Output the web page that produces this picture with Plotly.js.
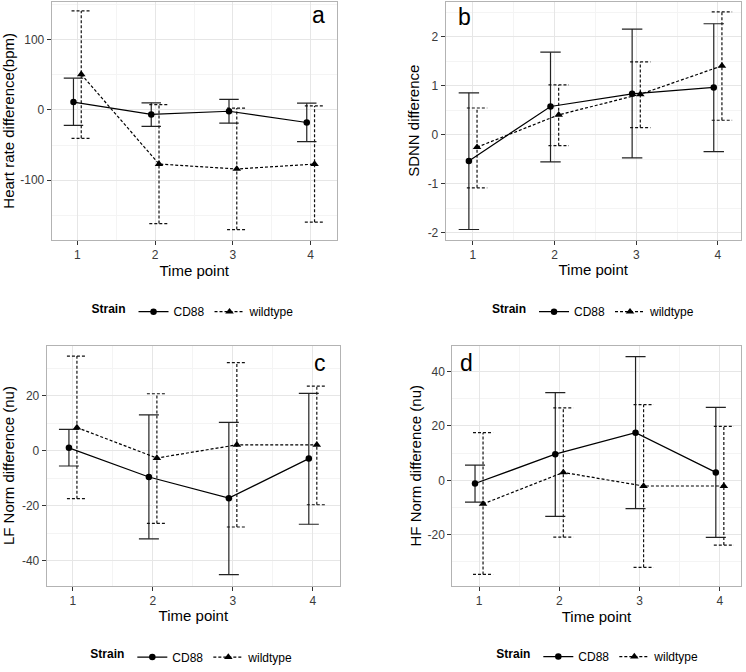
<!DOCTYPE html>
<html>
<head>
<meta charset="utf-8">
<script src="https://cdn.plot.ly/plotly-3.0.1.min.js"></script>
<style>
  html, body { margin: 0; padding: 0; background: #ffffff; }
  #chart { width: 746px; height: 672px; }
</style>
</head>
<body>
<div id="chart"></div>
<script>
// ---------------- DATA ----------------
const timePoints = [1, 2, 3, 4];
const strainNames = ['CD88', 'wildtype'];
const panelLetters = ['a', 'b', 'c', 'd'];
const yTitles = ['Heart rate difference(bpm)', 'SDNN difference', 'LF Norm difference (nu)', 'HF Norm difference (nu)'];
const xTitle = 'Time point';
const xTickText = ['1', '2', '3', '4'];

// Panel a: heart rate difference (bpm)
const hrCD88Mean  = [11, -6.5, -2, -18];
const hrCD88Upper = [45, 10, 15, 9.5];
const hrCD88Lower = [-22, -23.5, -19, -45];
const hrWTMean    = [50.5, -77, -84, -77];
const hrWTUpper   = [140.5, 7.5, 2.5, 5.5];
const hrWTLower   = [-40.5, -161.5, -170, -159.5];
const hrTickVals  = [-100, 0, 100];
const hrTickText  = ['-100', '0', '100'];

// Panel b: SDNN difference
const sdnnCD88Mean  = [-0.53, 0.58, 0.84, 0.97];
const sdnnCD88Upper = [0.86, 1.69, 2.16, 2.27];
const sdnnCD88Lower = [-1.93, -0.55, -0.47, -0.34];
const sdnnWTMean    = [-0.25, 0.41, 0.83, 1.41];
const sdnnWTUpper   = [0.55, 1.02, 1.49, 2.51];
const sdnnWTLower   = [-1.08, -0.22, 0.15, 0.30];
const sdnnTickVals  = [-2, -1, 0, 1, 2];
const sdnnTickText  = ['-2', '-1', '0', '1', '2'];

// Panel c: LF norm difference (nu)
const lfCD88Mean  = [1.1, -9.5, -17.2, -2.8];
const lfCD88Upper = [7.8, 13.1, 10.4, 20.9];
const lfCD88Lower = [-5.5, -32, -45, -26.7];
const lfWTMean    = [8.5, -2.6, 2.2, 2.2];
const lfWTUpper   = [34.5, 20.8, 32.1, 23.6];
const lfWTLower   = [-17.4, -26.4, -27.7, -19.6];
const lfTickVals  = [-40, -20, 0, 20];
const lfTickText  = ['-40', '-20', '0', '20'];

// Panel d: HF norm difference (nu)
const hfCD88Mean  = [-1.2, 9.6, 17.5, 2.9];
const hfCD88Upper = [5.6, 32.2, 45.5, 26.8];
const hfCD88Lower = [-8, -13.3, -10.4, -21];
const hfWTMean    = [-8.7, 2.9, -2.1, -2.1];
const hfWTUpper   = [17.5, 26.6, 27.8, 19.8];
const hfWTLower   = [-34.6, -20.9, -32, -23.8];
const hfTickVals  = [-20, 0, 20, 40];
const hfTickText  = ['-20', '0', '20', '40'];

// ---------------- STYLE / LAYOUT CONSTANTS ----------------
const FONT = 'Liberation Sans, Arial, Helvetica, sans-serif';
const W = 746, H = 672;
const DODGE = 0.05;
const CAP = 0.125;

const panels = [
  { cd: [hrCD88Mean, hrCD88Upper, hrCD88Lower], wt: [hrWTMean, hrWTUpper, hrWTLower],
    tv: hrTickVals, tt: hrTickText, yMinor: [-150, -50, 50, 150],
    px: [51.7, 336.7], py: [1.7, 242.5], xr: [0.67, 4.335], yr: [-184.8, 153.6],
    letter: [318.7, 15.5], legend: [194.5, 315], ystand: 6 },
  { cd: [sdnnCD88Mean, sdnnCD88Upper, sdnnCD88Lower], wt: [sdnnWTMean, sdnnWTUpper, sdnnWTLower],
    tv: sdnnTickVals, tt: sdnnTickText, yMinor: [-1.5, -0.5, 0.5, 1.5, 2.5],
    px: [445.7, 740.7], py: [1.7, 242.3], xr: [0.666, 4.28], yr: [-2.14, 2.72],
    letter: [464.7, 17], legend: [595, 315], ystand: 4 },
  { cd: [lfCD88Mean, lfCD88Upper, lfCD88Lower], wt: [lfWTMean, lfWTUpper, lfWTLower],
    tv: lfTickVals, tt: lfTickText, yMinor: [-30, -10, 10, 30],
    px: [46.7, 340], py: [349.3, 591.7], xr: [0.672, 4.34], yr: [-49, 38.3],
    letter: [320, 366.5], legend: [193.3, 664], ystand: 6 },
  { cd: [hfCD88Mean, hfCD88Upper, hfCD88Lower], wt: [hfWTMean, hfWTUpper, hfWTLower],
    tv: hfTickVals, tt: hfTickText, yMinor: [-30, -10, 10, 30],
    px: [452.3, 740.7], py: [349.3, 592], xr: [0.667, 4.26], yr: [-38.8, 49.5],
    letter: [466.3, 366.5], legend: [599.3, 663.5], ystand: 2 }
];

function errorPath(xs, upper, lower) {
  const x = [], y = [];
  xs.forEach((xi, i) => {
    x.push(xi, xi, null, xi - CAP, xi + CAP, null, xi - CAP, xi + CAP, null);
    y.push(lower[i], upper[i], null, upper[i], upper[i], null, lower[i], lower[i], null);
  });
  return { x, y };
}

const traces = [];
const layout = {
  width: W, height: H,
  margin: { l: 0, r: 0, t: 0, b: 0 },
  paper_bgcolor: '#ffffff', plot_bgcolor: '#ffffff',
  font: { family: FONT, color: '#000000', size: 12 },
  showlegend: true,
  annotations: []
};

panels.forEach((p, k) => {
  const n = k + 1;
  const xa = 'x' + (n === 1 ? '' : n);
  const ya = 'y' + (n === 1 ? '' : n);
  const legId = 'legend' + (n === 1 ? '' : n);
  const series = [
    { d: p.cd, name: strainNames[0], off: -DODGE, dash: 'solid', sym: 'circle', size: 6.5, ecol: '#222222' },
    { d: p.wt, name: strainNames[1], off: DODGE, dash: '3px,2px', sym: 'triangle-up', size: 7.5, ecol: '#111111' }
  ];
  series.forEach(s => {
    const xs = timePoints.map(t => t + s.off);
    const e = errorPath(xs, s.d[1], s.d[2]);
    traces.push({
      type: 'scatter', mode: 'lines', x: e.x, y: e.y, xaxis: xa, yaxis: ya,
      line: { color: s.ecol, width: 1.2, dash: s.dash }, showlegend: false, hoverinfo: 'skip',
      connectgaps: false
    });
  });
  series.forEach(s => {
    const xs = timePoints.map(t => t + s.off);
    traces.push({
      type: 'scatter', mode: 'lines+markers', x: xs, y: s.d[0], xaxis: xa, yaxis: ya,
      name: s.name, legend: legId,
      line: { color: '#000000', width: 1.2, dash: s.dash },
      marker: { symbol: s.sym, size: s.size, color: '#000000' }
    });
  });

  const xKey = 'xaxis' + (n === 1 ? '' : n);
  const yKey = 'yaxis' + (n === 1 ? '' : n);
  layout[xKey] = {
    domain: [p.px[0] / W, p.px[1] / W], anchor: ya, range: p.xr,
    tickmode: 'array', tickvals: timePoints, ticktext: xTickText,
    ticks: 'outside', ticklen: 4, tickwidth: 1, tickcolor: '#333333',
    tickfont: { family: FONT, size: 12, color: '#3a3a3a' },
    showgrid: true, gridcolor: '#e6e6e6', gridwidth: 1,
    minor: { tickvals: [1.5, 2.5, 3.5], showgrid: true, gridcolor: '#f4f4f4', ticks: '' },
    showline: true, mirror: true, linecolor: '#b3b3b3', linewidth: 1,
    zeroline: false, fixedrange: true,
    title: { text: xTitle, font: { family: FONT, size: 15, color: '#000000' }, standoff: 3 }
  };
  layout[yKey] = {
    domain: [1 - p.py[1] / H, 1 - p.py[0] / H], anchor: xa, range: p.yr,
    tickmode: 'array', tickvals: p.tv, ticktext: p.tt,
    ticks: 'outside', ticklen: 4, tickwidth: 1, tickcolor: '#333333',
    tickfont: { family: FONT, size: 12, color: '#3a3a3a' },
    showgrid: true, gridcolor: '#e6e6e6', gridwidth: 1,
    minor: { tickvals: p.yMinor, showgrid: true, gridcolor: '#f4f4f4', ticks: '' },
    showline: true, mirror: true, linecolor: '#b3b3b3', linewidth: 1,
    zeroline: false, fixedrange: true,
    title: { text: yTitles[k], font: { family: FONT, size: 15, color: '#000000' }, standoff: p.ystand }
  };
  layout[legId] = {
    x: p.legend[0] / W, y: 1 - p.legend[1] / H, xanchor: 'center', yanchor: 'middle',
    xref: 'paper', yref: 'paper',
    orientation: 'h', bgcolor: 'rgba(0,0,0,0)',
    title: { text: '<b>Strain</b>', side: 'left', font: { family: FONT, size: 12, color: '#000000' } },
    font: { family: FONT, size: 12, color: '#000000' },
    itemwidth: 30, tracegroupgap: 0
  };
  layout.annotations.push({
    text: panelLetters[k], xref: 'paper', yref: 'paper',
    x: p.letter[0] / W, y: 1 - p.letter[1] / H, xanchor: 'center', yanchor: 'middle',
    showarrow: false, font: { family: FONT, size: 23, color: '#000000' }
  });
});

Plotly.newPlot('chart', traces, layout, { displayModeBar: false, staticPlot: true });
</script>
</body>
</html>
